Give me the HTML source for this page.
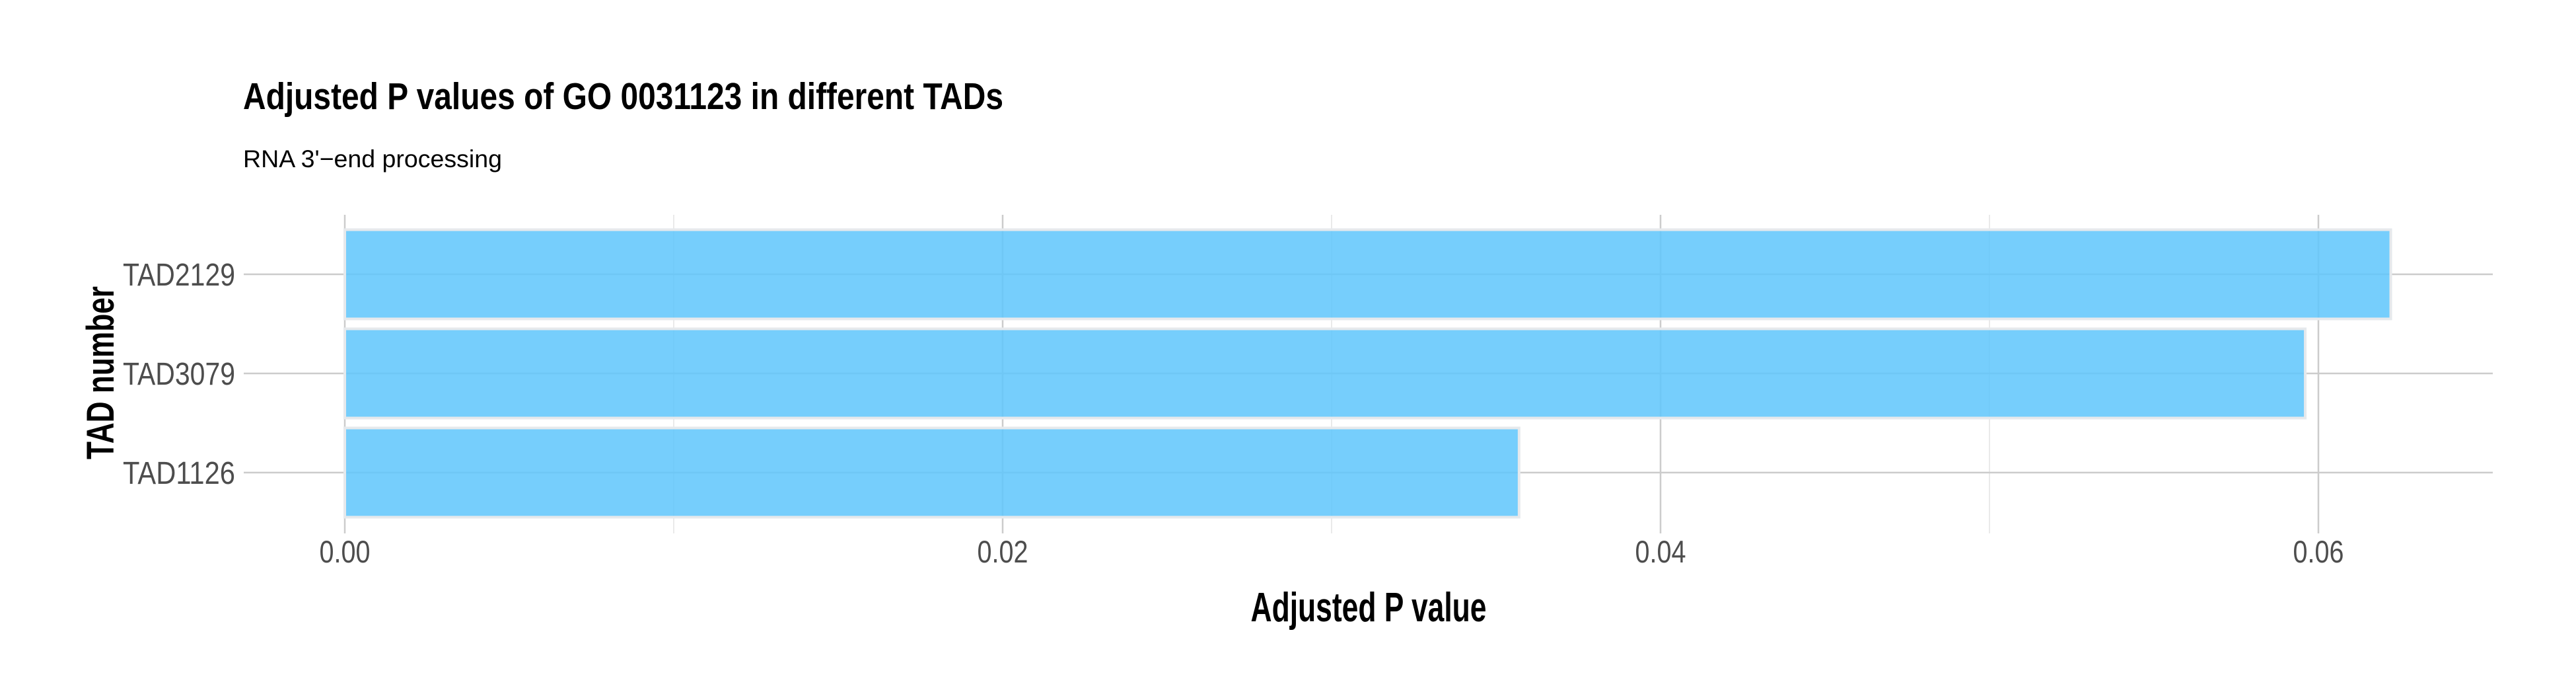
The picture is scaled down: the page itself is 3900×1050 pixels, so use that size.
<!DOCTYPE html>
<html><head><meta charset="utf-8"><style>
html,body{margin:0;padding:0;background:#fff;}
svg{display:block;font-family:"Liberation Sans Narrow","Liberation Sans",sans-serif;}
</style></head><body>
<svg id="chart" width="3900" height="1050" viewBox="0 0 3900 1050">
<text x="368" y="165" font-size="57" font-weight="bold" textLength="1151" lengthAdjust="spacingAndGlyphs">Adjusted P values of GO 0031123 in different TADs</text>
<text x="368" y="253" font-size="37" textLength="392" lengthAdjust="spacingAndGlyphs">RNA 3'−end processing</text>
<g id="grid"></g>
<g id="bars"></g>
<g id="axes"></g>
<text x="2072" y="940" font-size="62" font-weight="bold" text-anchor="middle" textLength="357" lengthAdjust="spacingAndGlyphs">Adjusted P value</text>
<text transform="translate(172,564) rotate(-90)" font-size="58" font-weight="bold" text-anchor="middle" textLength="262" lengthAdjust="spacingAndGlyphs">TAD number</text>
</svg>
<script>
const categories = ["TAD2129", "TAD3079", "TAD1126"];
const values = [0.0622, 0.0596, 0.0357];
const xTicks = [0, 0.02, 0.04, 0.06];
const xTickLabels = ["0.00", "0.02", "0.04", "0.06"];
const xMinor = [0.01, 0.03, 0.05];

const NS = "http://www.w3.org/2000/svg";
const panel = {left: 369, right: 3774, top: 325, bottom: 807};
function xScale(v){ return 522 + v * 49800; }
function yScale(i){ return 415 + i * 150; }
const band = 135;
function mk(tag, attrs, parent){
  const e = document.createElementNS(NS, tag);
  for (const k in attrs) e.setAttribute(k, attrs[k]);
  parent.appendChild(e);
  return e;
}
const grid = document.getElementById("grid");
const bars = document.getElementById("bars");
const axes = document.getElementById("axes");

xMinor.forEach(v => {
  const l = mk("line", {x1: xScale(v), x2: xScale(v), y1: panel.top, y2: panel.bottom, stroke: "#e3e3e3", "stroke-width": 1.5}, grid);
  
  
});
xTicks.forEach(v => {
  const l = mk("line", {x1: xScale(v), x2: xScale(v), y1: panel.top, y2: panel.bottom, stroke: "#cccccc", "stroke-width": 2.5}, grid);
  
  
});
categories.forEach((c, i) => {
  const l = mk("line", {x1: panel.left, x2: panel.right, y1: yScale(i), y2: yScale(i), stroke: "#cccccc", "stroke-width": 2.5}, grid);
  
  
});
categories.forEach((c, i) => {
  const r = mk("rect", {x: xScale(0), y: yScale(i) - band/2, width: xScale(values[i]) - xScale(0), height: band,
    fill: "#5ec6fc", "fill-opacity": 0.85, stroke: "#e6e9ec", "stroke-width": 4}, bars);
  
  
  const t = mk("text", {x: 356, y: yScale(i) + 17, "font-size": 48, fill: "#4d4d4d", "text-anchor": "end", textLength: 170, lengthAdjust: "spacingAndGlyphs"}, axes);
  t.textContent = c;
  
  
});
xTicks.forEach((v, i) => {
  const t = mk("text", {x: xScale(v), y: 851, "font-size": 47, fill: "#4d4d4d", "text-anchor": "middle", textLength: 77, lengthAdjust: "spacingAndGlyphs"}, axes);
  t.textContent = xTickLabels[i];
  
  
});
</script>
</body></html>
